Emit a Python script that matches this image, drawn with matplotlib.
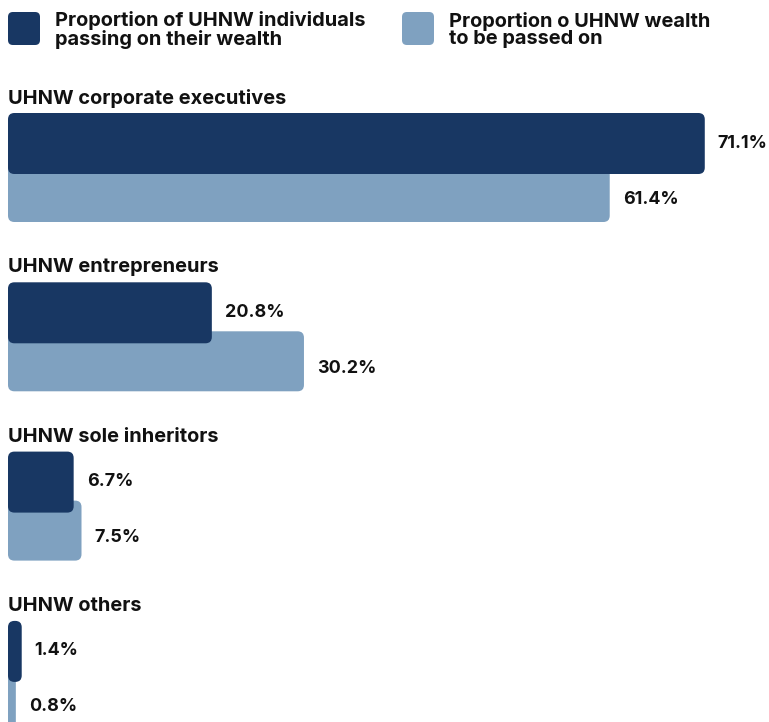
import matplotlib.pyplot as plt
from matplotlib.patches import FancyBboxPatch

plt.rcParams['font.family'] = ['Inter', 'DejaVu Sans']

categories = ["UHNW corporate executives", "UHNW entrepreneurs",
              "UHNW sole inheritors", "UHNW others"]
individuals = [71.1, 20.8, 6.7, 1.4]
wealth = [61.4, 30.2, 7.5, 0.8]
legend_labels = ["Proportion of UHNW individuals\npassing on their wealth",
                 "Proportion o UHNW wealth\nto be passed on"]

dark = "#183763"
light = "#7fa1c0"
txt = "#111111"

W, H = 769, 722
px_per_unit = 9.8   # pixels per percent point
x0 = 8              # left edge of bars in pixels

fig = plt.figure(figsize=(W / 100, H / 100), dpi=100)
ax = fig.add_axes([0, 0, 1, 1])
ax.set_xlim(-x0 / px_per_unit, (W - x0) / px_per_unit)
ax.set_ylim(H, 0)
ax.axis("off")


def rbar(y_top, width, height, color, z):
    r = min(0.65, width / 2)
    p = FancyBboxPatch((0, y_top), width, height,
                       boxstyle=f"round,pad=0,rounding_size={r}",
                       mutation_aspect=px_per_unit,
                       fc=color, ec="none", zorder=z)
    ax.add_patch(p)


gap = 169.3
for i, cat in enumerate(categories):
    top = 113 + gap * i
    ax.text(0, top - 15, cat, fontsize=14.4, fontweight="bold",
            color=txt, va="center", ha="left")
    # light bar sits behind, shifted down
    rbar(top + 49, wealth[i], 60, light, 2)
    rbar(top, individuals[i], 61, dark, 3)
    ax.text(individuals[i] + 13 / px_per_unit, top + 30,
            f"{individuals[i]}%", fontsize=12.9, fontweight="bold",
            color=txt, va="center", ha="left")
    ax.text(wealth[i] + 13 / px_per_unit, top + 86,
            f"{wealth[i]}%", fontsize=12.9, fontweight="bold",
            color=txt, va="center", ha="left")

# legend
for j, (lab, col) in enumerate(zip(legend_labels, [dark, light])):
    lx = 8 + 394 * j
    ax.add_patch(FancyBboxPatch(((lx - x0) / px_per_unit, 12),
                                32 / px_per_unit, 33,
                                boxstyle="round,pad=0,rounding_size=0.5",
                                mutation_aspect=px_per_unit,
                                fc=col, ec="none"))
    ax.text((lx + 47 - x0) / px_per_unit, 30, lab, fontsize=14.4,
            fontweight="bold", color=txt, va="center", ha="left",
            linespacing=0.98)

fig.savefig("out.png", dpi=100)
